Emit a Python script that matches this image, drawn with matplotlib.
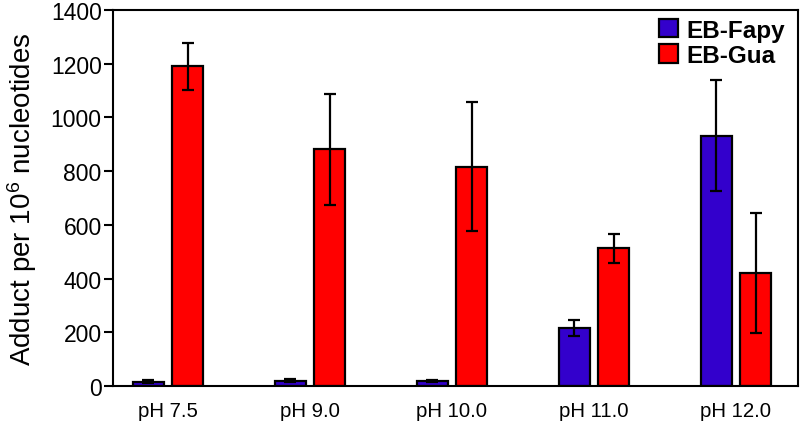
import numpy as np
import matplotlib
matplotlib.use("Agg")
import matplotlib.pyplot as plt

plt.rcParams['font.family'] = ['Liberation Sans', 'DejaVu Sans']
plt.rcParams['mathtext.fontset'] = 'custom'
plt.rcParams['mathtext.rm'] = 'Liberation Sans'
plt.rcParams['mathtext.it'] = 'Liberation Sans'

categories = ["pH 7.5", "pH 9.0", "pH 10.0", "pH 11.0", "pH 12.0"]
fapy = [16, 20, 18, 216, 932]
fapy_err = [5, 5, 5, 30, 206]
gua = [1190, 881, 817, 513, 420]
gua_err = [88, 208, 240, 54, 223]

BLUE = "#3300cc"
RED = "#ff0000"

fig = plt.figure(figsize=(8, 4.27), dpi=100)
ax = fig.add_axes([0.141, 0.0937, 0.8565, 0.8805])

x = np.arange(len(categories))
w = 0.218
off = 0.139
err_kw = dict(elinewidth=1.6, capthick=1.6, ecolor='black')
ax.bar(x - off, fapy, w, yerr=fapy_err, capsize=4.5, color=BLUE,
       edgecolor='black', linewidth=1.6, label="EB-Fapy", error_kw=err_kw)
ax.bar(x + off, gua, w, yerr=gua_err, capsize=4.5, color=RED,
       edgecolor='black', linewidth=1.6, label="EB-Gua", error_kw=err_kw)

ax.set_xlim(-0.387, 4.437)
ax.set_ylim(0, 1400)
ax.set_yticks(range(0, 1401, 200))
ax.set_xticks(x)
ax.set_xticklabels(categories)
ax.tick_params(axis='x', length=0, pad=11, labelsize=14.7)
ax.tick_params(axis='y', length=6.5, width=1.5, pad=1.5, labelsize=16.5)
for s in ax.spines.values():
    s.set_linewidth(1.5)

ax.set_ylabel(r"Adduct per 10$^6$ nucleotides", fontsize=20)
ax.yaxis.set_label_coords(-0.107, 0.5)

leg = ax.legend(loc='upper right', bbox_to_anchor=(1.003, 1.016), frameon=False,
                prop={'weight': 'bold', 'size': 17.5},
                handlelength=0.8, handleheight=0.8, handletextpad=0.35,
                labelspacing=0.1, borderaxespad=0.2)

fig.savefig("out.png", dpi=100)
